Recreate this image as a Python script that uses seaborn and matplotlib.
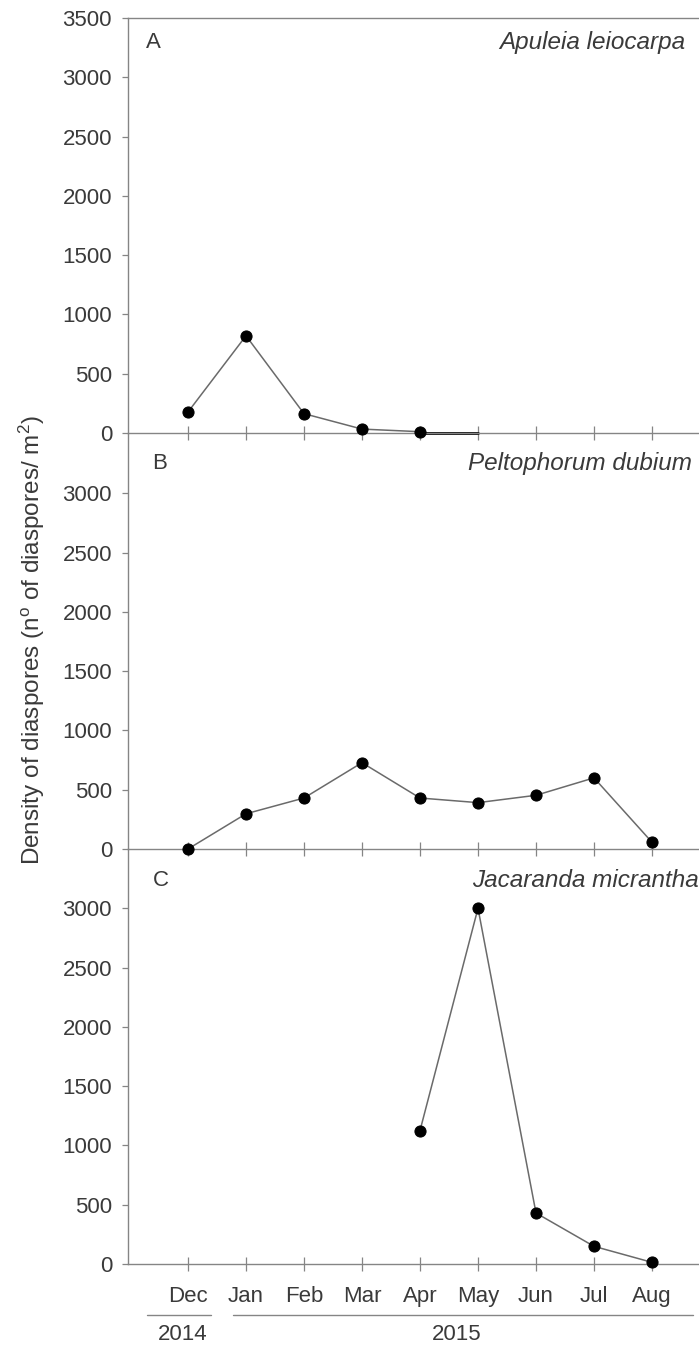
import matplotlib
matplotlib.use("Agg")
import matplotlib.pyplot as plt
import matplotlib.transforms as mtransforms
import seaborn as sns
import pandas as pd

# ---------------- data ----------------
months = ["Dec", "Jan", "Feb", "Mar", "Apr", "May", "Jun", "Jul", "Aug"]
month_pos = list(range(len(months)))

a_months = ["Dec", "Jan", "Feb", "Mar", "Apr"]
a_values = [177, 820, 163, 33, 11]
a_tail_months = ["Apr", "May"]
a_tail_values = [0, 0]

b_months = ["Dec", "Jan", "Feb", "Mar", "Apr", "May", "Jun", "Jul", "Aug"]
b_values = [0, 297, 430, 728, 430, 391, 453, 600, 57]

c_months = ["Apr", "May", "Jun", "Jul", "Aug"]
c_values = [1125, 3000, 430, 149, 14]

species = ["Apuleia leiocarpa", "Peltophorum dubium", "Jacaranda micrantha"]
panel_letters = ["A", "B", "C"]
years = ["2014", "2015"]

# ---------------- style ----------------
sns.set_theme(style="white")
plt.rcParams["font.family"] = ["Liberation Sans", "DejaVu Sans"]
plt.rcParams["mathtext.fontset"] = "custom"
plt.rcParams["mathtext.rm"] = "Liberation Sans"
plt.rcParams["mathtext.it"] = "Liberation Sans:italic"

TXT = "#3a3a3a"
SPINE = "#858585"
LINE = "#6a6a6a"
FS = 16
FS_SP = 17.5
FS_YL = 17.5

fig = plt.figure(figsize=(6.99, 13.49), dpi=100)
W, H = 699, 1349
left_px, right_px = 128, 699
tops = [18, 434, 849]
ph = 415

axes = []
for t in tops:
    ax = fig.add_axes([left_px / W, 1 - (t + ph) / H, (right_px - left_px) / W, ph / H])
    axes.append(ax)

def idx(ms):
    return [months.index(m) for m in ms]

series = [
    (a_months, a_values),
    (b_months, b_values),
    (c_months, c_values),
]

for i, (ax, (ms, vals)) in enumerate(zip(axes, series)):
    df = pd.DataFrame({"x": idx(ms), "y": vals})
    sns.lineplot(data=df, x="x", y="y", ax=ax, color=LINE, linewidth=1.1,
                 marker="o", markersize=8, markerfacecolor="black",
                 markeredgecolor="black", zorder=3, clip_on=False)
    if i == 0:
        dft = pd.DataFrame({"x": idx(a_tail_months), "y": a_tail_values})
        sns.lineplot(data=dft, x="x", y="y", ax=ax, color="black",
                     linewidth=2.0, zorder=2, clip_on=False)

    ax.set_xlim(-60 / 58, (right_px - 188) / 58)
    ax.set_ylim(0, 3500)
    ax.set_xlabel("")
    ax.set_ylabel("")
    ax.set_xticks(month_pos)
    if i == 0:
        ax.set_yticks([0, 500, 1000, 1500, 2000, 2500, 3000, 3500])
    else:
        ax.set_yticks([0, 500, 1000, 1500, 2000, 2500, 3000])
    ax.tick_params(axis="y", direction="out", length=4.5, width=0.9,
                   colors=SPINE, labelcolor=TXT, labelsize=FS, pad=7, left=True)
    ax.tick_params(axis="x", direction="inout", length=9.5, width=0.9,
                   colors=SPINE, labelcolor=TXT, labelsize=FS, pad=11, bottom=True)
    if i < 2:
        ax.set_xticklabels([])
    else:
        ax.set_xticklabels(months)
    for s in ["left", "bottom", "top"]:
        ax.spines[s].set_color(SPINE)
        ax.spines[s].set_linewidth(1.0)
    ax.spines["right"].set_visible(False)
    if i > 0:
        ax.spines["top"].set_visible(False)
    ax.set_facecolor("none")

# species and panel letters
sp_x = [0.976, 0.988, 1.0]
sp_y = [0.94, 0.93, 0.925]
for ax, sp, letter, sx, sy in zip(axes, species, panel_letters, sp_x, sp_y):
    ax.text(sx, sy, sp, transform=ax.transAxes, ha="right", va="center",
            fontsize=FS_SP, style="italic", color=TXT)
    ax.text(0.032 if letter == "A" else 0.043, sy, letter, transform=ax.transAxes,
            ha="left", va="center", fontsize=FS, color=TXT)

# year brackets under bottom panel
axc = axes[2]
trans = mtransforms.blended_transform_factory(axc.transData, axc.transAxes)
line_y = -0.123
text_y = -0.171
axc.plot([-0.71, 0.405], [line_y, line_y], transform=trans, color=SPINE,
         linewidth=1.0, clip_on=False)
axc.plot([0.776, 8.71], [line_y, line_y], transform=trans, color=SPINE,
         linewidth=1.0, clip_on=False)
axc.text(-0.10, text_y, years[0], transform=trans, ha="center", va="center",
         fontsize=FS, color=TXT)
axc.text(4.64, text_y, years[1], transform=trans, ha="center", va="center",
         fontsize=FS, color=TXT)

fig.text(32 / W, 1 - 640 / H,
         r"Density of diaspores (n$^{\mathrm{o}}$ of diaspores/ m$^{2}$)",
         rotation=90, ha="center", va="center", fontsize=FS_YL, color=TXT)

fig.savefig("out.png", dpi=100)
